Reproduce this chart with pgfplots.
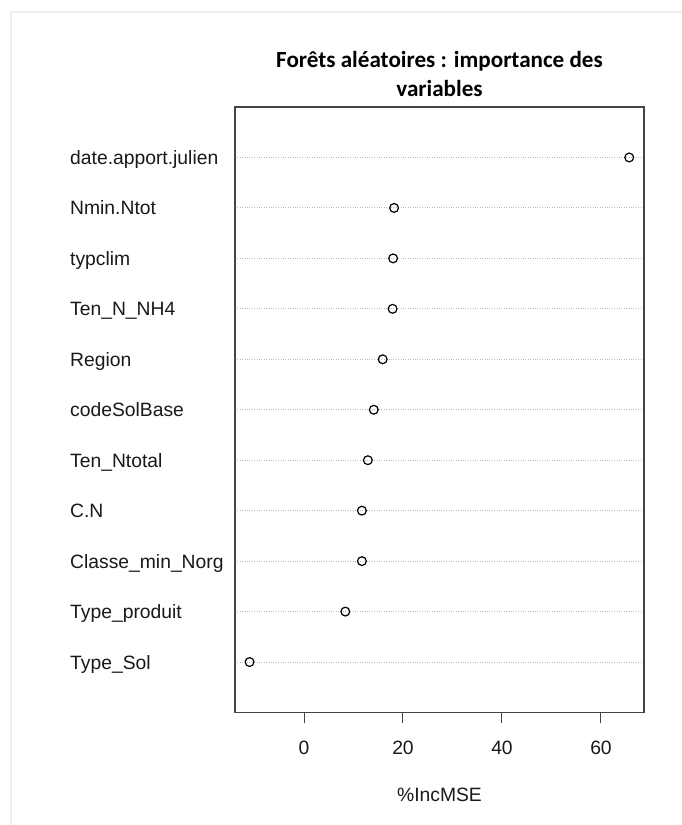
\documentclass[border=0pt]{standalone}
\usepackage{pgfplots}
\pgfplotsset{compat=1.18}
\usepackage{fontspec}
\setmainfont{Liberation Sans}
\newfontfamily\titlefont{Carlito}
\definecolor{framegray}{HTML}{444444}
\definecolor{gridgray}{HTML}{BBBBBB}
\definecolor{bordergray}{HTML}{EEEEEE}
\begin{document}
\begin{tikzpicture}[x=1pt,y=1pt]
\useasboundingbox (0,0) rectangle (681,825);
\fill[white] (0,0) rectangle (681,825);
\draw[bordergray, line width=2pt] (11,-5) -- (11,813) -- (690,813);
\begin{axis}[
  at={(235pt,112.5pt)}, anchor=south west,
  scale only axis, width=409pt, height=605.5pt,
  xmin=-13.94, xmax=68.69, ymin=0, ymax=12,
  xtick={0,20,40,60},
  ytick={1,2,3,4,5,6,7,8,9,10,11},
  yticklabels={Type\_Sol,Type\_produit,Classe\_min\_Norg,C.N,Ten\_Ntotal,codeSolBase,Region,Ten\_N\_NH4,typclim,Nmin.Ntot,date.apport.julien},
  /pgf/number format/assume math mode=true,
  tick label style={font=\fontsize{19.3}{23}\selectfont, text=black!90},
  xticklabel style={anchor=base, inner sep=0pt, yshift=-31.5pt},
  yticklabel style={anchor=base west, inner sep=0pt, xshift=-165pt, yshift=-7pt},
  xtick pos=bottom,
  xtick align=outside, major tick length=11pt,
  xtick style={framegray, line width=1pt},
  ytick style={draw=none},
  ymajorgrids=true,
  major grid style={gridgray, dotted, line width=0.9pt},
  axis line style={framegray, line width=1.3pt},
  xlabel={\%IncMSE},
  xlabel style={font=\fontsize{19.3}{23}\selectfont, text=black!90, at={(0.5,0)}, anchor=base, inner sep=0pt, yshift=-88.5pt},
  title={Forêts aléatoires : importance des\\variables},
  title style={font=\titlefont\bfseries\fontsize{23.1}{29}\selectfont, align=center, at={(0.5,1)}, anchor=south, inner sep=0pt, yshift=3.7pt},
  clip=false,
]
\addplot[only marks, mark=o, mark size=4.4pt, mark options={line width=1.2pt, black}] coordinates {
  (65.7,11) (18.2,10) (18.0,9) (17.9,8) (15.9,7) (14.1,6) (12.9,5) (11.7,4) (11.7,3) (8.35,2) (-11.0,1)
};
\end{axis}
\end{tikzpicture}
\end{document}
